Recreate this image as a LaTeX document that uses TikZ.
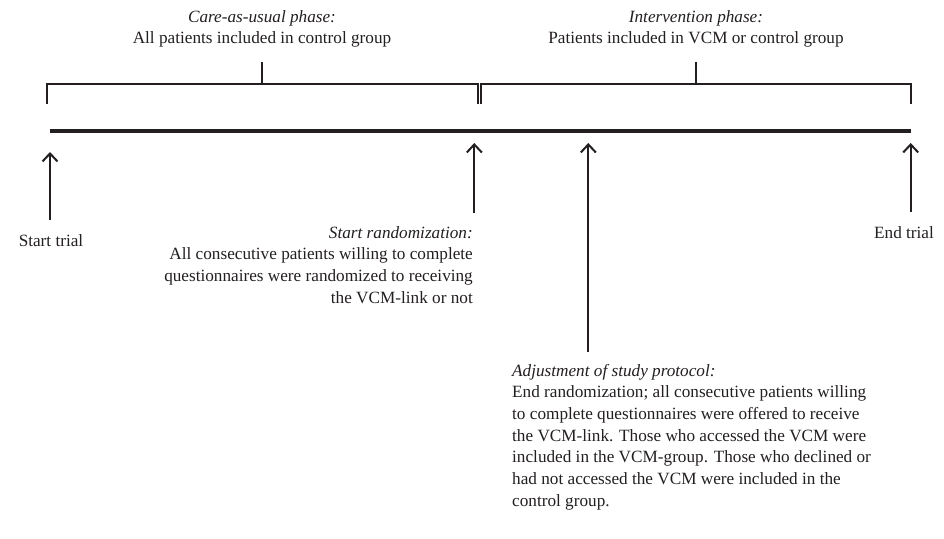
\documentclass[tikz,border=0pt]{standalone}
\usepackage{fontspec}
\setmainfont{Liberation Serif}
\usepackage{xcolor}
\usetikzlibrary{arrows.meta,calc}
\definecolor{InkBlack}{HTML}{231F20}
\tikzset{
  bracketline/.style={draw=InkBlack,line width=2pt},
  timeline/.style={draw=InkBlack,line width=3.5pt},
  marker/.style={draw=InkBlack,line width=2pt,-{Straight Barb[length=8pt,width=15pt]}},
  phasetext/.style={text=InkBlack,inner sep=0pt,align=center,font=\fontsize{17.2}{21.7}\selectfont},
  eventtext/.style={text=InkBlack,inner sep=0pt,font=\fontsize{17.2}{21.7}\selectfont},
}

\begin{document}
\begin{tikzpicture}[x=1pt,y=-1pt]
    \useasboundingbox (0,0) rectangle (944,538);
    % time line
    \coordinate (T0) at (50,131);
    \coordinate (T1) at (911,131);
    \draw[timeline] (T0) -- (T1);
    % phase brackets
    \coordinate (CA) at (47,104);
    \coordinate (CB) at (477.5,104);
    \coordinate (IA) at (481,104);
    \coordinate (IB) at (911,104);
    \draw[bracketline] (CA) -- ++(0,-20) -| (CB);
    \draw[bracketline] (IA) -- ++(0,-20) -| (IB);
    \coordinate (Ctop) at ($(CA)!0.5!(CB)+(0,-20)$);
    \coordinate (Itop) at ($(IA)!0.5!(IB)+(0,-20)$);
    \draw[bracketline] (Ctop) -- ++(0,-22);
    \draw[bracketline] (Itop) -- ++(0,-22);
    % base = last line
    \node[phasetext,anchor=base] (careusual) at (262,43.7)
      {\textit{Care-as-usual phase:}\\All patients included in control group};
    \node[phasetext,anchor=base] (intervention) at (696,43.7)
      {\textit{Intervention phase:}\\Patients included in VCM or control group};
    % event arrows
    \foreach \name/\x/\ylow/\yhigh in {start/50/220/152,rand/474.3/213/143,adjust/588.3/352/143,end/910.7/212/143} {
      \coordinate (\name-foot) at (\x,\ylow);
      \coordinate (\name-tip) at (\x,\yhigh);
      \draw[marker] (\name-foot) -- (\name-tip);
    }
    \node[eventtext,anchor=base] (starttrial) at (51,246) {Start trial};
    \node[eventtext,anchor=base] (endtrial) at (904,238) {End trial};
    \node[eventtext,anchor=base east,align=right] (randtext) at (473,303.1)
      {\textit{Start randomization:}\\All consecutive patients willing to complete\\questionnaires were randomized to receiving\\the VCM-link or not};
    \node[eventtext,anchor=base west,align=left] (adjusttext) at (512,506.2)
      {\textit{Adjustment of study protocol:}\\End randomization; all consecutive patients willing\\to complete questionnaires were offered to receive\\the VCM-link. Those who accessed the VCM were\\included in the VCM-group. Those who declined or\\had not accessed the VCM were included in the\\control group.};
\end{tikzpicture}
\end{document}
